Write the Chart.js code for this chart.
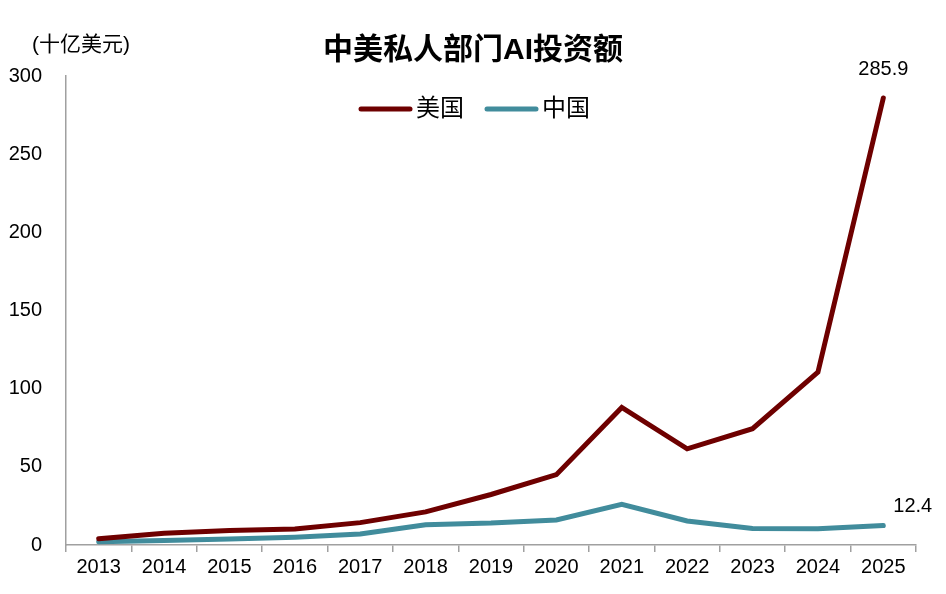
<!DOCTYPE html>
<html>
<head>
<meta charset="utf-8">
<script src="https://cdn.jsdelivr.net/npm/chart.js@4"></script>
<style>
html,body{margin:0;padding:0;background:#fff;}
canvas{display:block;}
</style>
</head>
<body>
<canvas id="c" width="946" height="594"></canvas>
<script>
const years = ['2013','2014','2015','2016','2017','2018','2019','2020','2021','2022','2023','2024','2025'];
const usValues = [4.0, 7.5, 9.3, 10.2, 14.3, 21.2, 32.3, 45.0, 88.0, 61.5, 74.4, 110.5, 285.9];
const cnValues = [2.0, 2.9, 3.8, 5.0, 7.0, 13.0, 14.0, 16.0, 26.0, 15.4, 10.6, 10.4, 12.4];
const seriesNames = ['美国', '中国'];
const seriesColors = ['#6E0000', '#418C9C'];
const yTicks = [0, 50, 100, 150, 200, 250, 300];
const titleText = '中美私人部门AI投资额';
const unitText = '(十亿美元)';

const FONT = '"Liberation Sans", Arial, "Noto Sans CJK SC", sans-serif';
const AXIS = '#A0A0A0';

const overlay = {
  id: 'overlay',
  afterDraw(chart) {
    const ctx = chart.ctx;
    ctx.save();
    // title
    ctx.fillStyle = '#000';
    ctx.textAlign = 'center';
    ctx.textBaseline = 'middle';
    ctx.font = 'bold 30px ' + FONT;
    ctx.fillText(titleText, 473, 51);
    // unit
    ctx.font = '21px ' + FONT;
    ctx.textAlign = 'left';
    ctx.fillText(unitText, 32, 45);
    // legend
    const legendItems = [{x: 361, tx: 416}, {x: 487, tx: 542}];
    ctx.font = '24px ' + FONT;
    legendItems.forEach((it, i) => {
      ctx.strokeStyle = seriesColors[i];
      ctx.lineWidth = 5;
      ctx.lineCap = 'round';
      ctx.beginPath();
      ctx.moveTo(it.x, 109);
      ctx.lineTo(it.x + 49, 109);
      ctx.stroke();
      ctx.fillStyle = '#000';
      ctx.textAlign = 'left';
      ctx.fillText(seriesNames[i], it.tx, 109);
    });
    // end labels
    ctx.font = '20px ' + FONT;
    const m0 = chart.getDatasetMeta(0).data;
    const p0 = m0[m0.length - 1];
    ctx.textAlign = 'center';
    ctx.fillText(usValues[usValues.length - 1].toFixed(1), p0.x, p0.y - 29);
    const m1 = chart.getDatasetMeta(1).data;
    const p1 = m1[m1.length - 1];
    ctx.textAlign = 'left';
    ctx.fillText(cnValues[cnValues.length - 1].toFixed(1), p1.x + 10, p1.y - 19);
    ctx.restore();
  }
};

new Chart(document.getElementById('c'), {
  type: 'line',
  data: {
    labels: years,
    datasets: [
      {label: seriesNames[0], data: usValues, borderColor: seriesColors[0], backgroundColor: seriesColors[0], borderWidth: 5, pointRadius: 0, tension: 0, borderCapStyle: 'round'},
      {label: seriesNames[1], data: cnValues, borderColor: seriesColors[1], backgroundColor: seriesColors[1], borderWidth: 5, pointRadius: 0, tension: 0, borderCapStyle: 'round'}
    ]
  },
  options: {
    responsive: false,
    animation: false,
    devicePixelRatio: 1,
    layout: {padding: {top: 76, right: 30, left: 0, bottom: 0}},
    plugins: {legend: {display: false}, title: {display: false}, tooltip: {enabled: false}},
    scales: {
      x: {
        offset: true,
        grid: {display: true, drawOnChartArea: false, drawTicks: true, tickLength: 7, color: AXIS, lineWidth: 1.5, offset: true},
        border: {display: true, color: AXIS, width: 1.5},
        ticks: {color: '#000', font: {family: FONT, size: 20}, padding: 3, maxRotation: 0, autoSkip: false},
        afterFit(s) { s.height = 49; }
      },
      y: {
        min: 0, max: 300,
        afterBuildTicks(s) { s.ticks = yTicks.map(v => ({value: v})); },
        grid: {display: true, drawOnChartArea: false, drawTicks: false, color: AXIS},
        border: {display: true, color: AXIS, width: 1.5},
        ticks: {color: '#000', font: {family: FONT, size: 20}, padding: 24},
        afterFit(s) { s.width = 66; }
      }
    }
  },
  plugins: [overlay]
});
</script>
</body>
</html>
